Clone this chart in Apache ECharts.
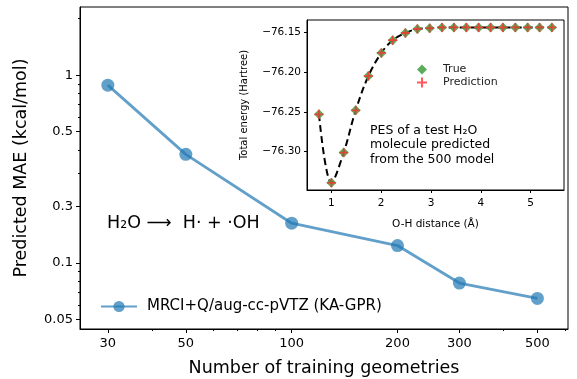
<!DOCTYPE html>
<html>
<head>
<meta charset="utf-8">
<script src="https://cdn.jsdelivr.net/npm/echarts@6/dist/echarts.min.js"></script>
<style>
  html, body { margin: 0; padding: 0; background: #fff; }
  #chart { width: 577px; height: 379px; }
</style>
</head>
<body>
<div id="chart"></div>
<script>
// main plot: MAE vs training set size
var trainSizes = [30, 50, 100, 200, 300, 500];
var maeValues = [0.885, 0.379, 0.163, 0.124, 0.0783, 0.0649];
var xTickValues = [30, 50, 100, 200, 300, 500];
var xMinorTicks = [40, 60, 70, 80, 90, 400, 600];
var yTickValues = [0.05, 0.1, 0.2, 0.5, 1];
var yTickLabels = ['0.05', '0.1', '0.3', '0.5', '1'];
var yMinorTicks = [0.06, 0.07, 0.08, 0.09, 0.3, 0.4, 0.6, 0.7, 0.8, 0.9, 2];

// inset: PES of a test H2O molecule
var ohDistance = [0.75, 1.0, 1.247, 1.488, 1.742, 2.003, 2.23, 2.485, 2.726, 2.973,
                  3.22, 3.46, 3.709, 3.956, 4.197, 4.444, 4.693, 4.94, 5.18, 5.427];
var trueEnergy = [-76.253, -76.339, -76.301, -76.248, -76.205, -76.176, -76.160, -76.151, -76.146, -76.145,
                  -76.144, -76.144, -76.144, -76.144, -76.144, -76.144, -76.144, -76.144, -76.144, -76.144];
var predEnergy = [-76.253, -76.339, -76.301, -76.248, -76.205, -76.176, -76.160, -76.151, -76.146, -76.145,
                  -76.144, -76.144, -76.144, -76.144, -76.144, -76.144, -76.144, -76.144, -76.144, -76.144];
var insetXTicks = [1, 2, 3, 4, 5];
var insetYTicks = [-76.30, -76.25, -76.20, -76.15];

var FONT = 'DejaVu Sans';
var plusPath = 'path://M-1,-5H1V-1H5V1H1V5H-1V1H-5V-1H-1Z';

function pairs(xs, ys) {
  return xs.map(function (x, i) { return [x, ys[i]]; });
}

var chart = echarts.init(document.getElementById('chart'), null, { renderer: 'canvas' });

var option = {
  animation: false,
  backgroundColor: '#fff',
  textStyle: { fontFamily: FONT },
  grid: [
    { left: 80, right: 9, top: 7, bottom: 50, outerBoundsMode: 'none', containLabel: false,
      show: true, borderColor: '#000', borderWidth: 1 },
    { left: 307, top: 20, width: 257, height: 170, outerBoundsMode: 'none', containLabel: false,
      show: true, backgroundColor: '#fff', borderColor: '#000', borderWidth: 1 }
  ],
  xAxis: [
    {
      type: 'log', gridIndex: 0, min: 25, max: 611, position: 'bottom',
      name: 'Number of training geometries', nameLocation: 'middle', nameGap: 30,
      nameTextStyle: { fontSize: 17.5, color: '#000', fontFamily: FONT },
      axisLine: { lineStyle: { color: '#000', width: 1 } },
      axisTick: { customValues: xTickValues, length: 4, lineStyle: { color: '#000' } },
      axisLabel: { customValues: xTickValues, fontSize: 13, color: '#000', margin: 8, fontFamily: FONT },
      splitLine: { show: false }
    },
    {
      type: 'log', gridIndex: 0, min: 25, max: 611, position: 'bottom', offset: 0,
      axisLine: { show: false },
      axisTick: { customValues: xMinorTicks, length: 2, lineStyle: { color: '#000' } },
      axisLabel: { show: false },
      splitLine: { show: false }
    },
    {
      type: 'value', gridIndex: 1, min: 0.51, max: 5.67,
      name: 'O-H distance (Å)', nameLocation: 'middle', nameGap: 29,
      nameTextStyle: { fontSize: 10.5, color: '#000', fontFamily: FONT },
      axisLine: { onZero: false, lineStyle: { color: '#000' } },
      axisTick: { customValues: insetXTicks, length: 3, lineStyle: { color: '#000' } },
      axisLabel: { customValues: insetXTicks, fontSize: 10.5, color: '#000', margin: 8, fontFamily: FONT },
      splitLine: { show: false }
    }
  ],
  yAxis: [
    {
      type: 'log', gridIndex: 0, min: 0.0446, max: 2.305, position: 'left',
      name: 'Predicted MAE (kcal/mol)', nameLocation: 'middle', nameGap: 50,
      nameTextStyle: { fontSize: 17.5, color: '#000', fontFamily: FONT },
      axisLine: { lineStyle: { color: '#000', width: 1 } },
      axisTick: { customValues: yTickValues, length: 4, lineStyle: { color: '#000' } },
      axisLabel: {
        customValues: yTickValues, fontSize: 13, color: '#000', margin: 7, fontFamily: FONT,
        formatter: function (v) {
          for (var i = 0; i < yTickValues.length; i++) {
            if (Math.abs(yTickValues[i] - v) < 1e-9) return yTickLabels[i];
          }
          return String(v);
        }
      },
      splitLine: { show: false }
    },
    {
      type: 'log', gridIndex: 0, min: 0.0446, max: 2.305, position: 'left', offset: 0,
      axisLine: { show: false },
      axisTick: { customValues: yMinorTicks, length: 2, lineStyle: { color: '#000' } },
      axisLabel: { show: false },
      splitLine: { show: false }
    },
    {
      type: 'value', gridIndex: 1, min: -76.348, max: -76.1347, scale: true,
      name: 'Total energy (Hartree)', nameLocation: 'middle', nameGap: 58,
      nameTextStyle: { fontSize: 10, color: '#000', fontFamily: FONT },
      axisLine: { onZero: false, lineStyle: { color: '#000' } },
      axisTick: { customValues: insetYTicks, length: 3, lineStyle: { color: '#000' } },
      axisLabel: {
        customValues: insetYTicks, fontSize: 10.5, color: '#000', margin: 6, fontFamily: FONT,
        formatter: function (v) { return '\u2212' + Math.abs(v).toFixed(2); }
      },
      splitLine: { show: false }
    }
  ],
  legend: [
    {
      data: ['MRCI+Q/aug-cc-pVTZ (KA-GPR)'],
      left: 95, top: 294, itemWidth: 36, itemHeight: 14,
      textStyle: { fontSize: 15, color: '#000', fontFamily: FONT, padding: [0, 0, 0, 5] }
    },
    {
      data: [{ name: 'True', icon: 'diamond' }, { name: 'Prediction', icon: plusPath }],
      orient: 'vertical', left: 412, top: 59, itemWidth: 10, itemHeight: 10, itemGap: 2,
      textStyle: { fontSize: 11, color: '#222', fontFamily: FONT, padding: [0, 0, 0, 11] }
    }
  ],
  graphic: [
    {
      type: 'text', left: 107, top: 214, z: 100,
      style: { text: 'H\u2082O \u27F6  H\u00B7 + \u00B7OH', font: '17.5px "DejaVu Sans"', fill: '#000' }
    },
    {
      type: 'text', left: 370, top: 123, z: 100,
      style: {
        text: 'PES of a test H\u2082O\nmolecule predicted\nfrom the 500 model',
        font: '12.5px "DejaVu Sans"', fill: '#000', lineHeight: 14.5
      }
    }
  ],
  series: [
    {
      name: 'MRCI+Q/aug-cc-pVTZ (KA-GPR)', type: 'line', xAxisIndex: 0, yAxisIndex: 0,
      data: pairs(trainSizes, maeValues),
      symbol: 'circle', symbolSize: 13,
      lineStyle: { color: '#1f77b4', width: 2.8, opacity: 0.7 },
      itemStyle: { color: '#1f77b4', opacity: 0.7 }
    },
    {
      name: 'curve', type: 'line', xAxisIndex: 2, yAxisIndex: 2, z: 3,
      data: pairs(ohDistance, trueEnergy), smooth: 0.35, symbol: 'none',
      lineStyle: { color: '#000', width: 2, type: [7, 4] }
    },
    {
      name: 'True', type: 'scatter', xAxisIndex: 2, yAxisIndex: 2, z: 4,
      data: pairs(ohDistance, trueEnergy), symbol: 'diamond', symbolSize: 10,
      itemStyle: { color: '#4aa34a', opacity: 0.9 }
    },
    {
      name: 'Prediction', type: 'scatter', xAxisIndex: 2, yAxisIndex: 2, z: 5,
      data: pairs(ohDistance, predEnergy), symbol: plusPath, symbolSize: 9,
      itemStyle: { color: '#ff3030', opacity: 0.8 }
    }
  ]
};

chart.setOption(option);
window.addEventListener('resize', function () { chart.resize(); });
</script>
</body>
</html>
